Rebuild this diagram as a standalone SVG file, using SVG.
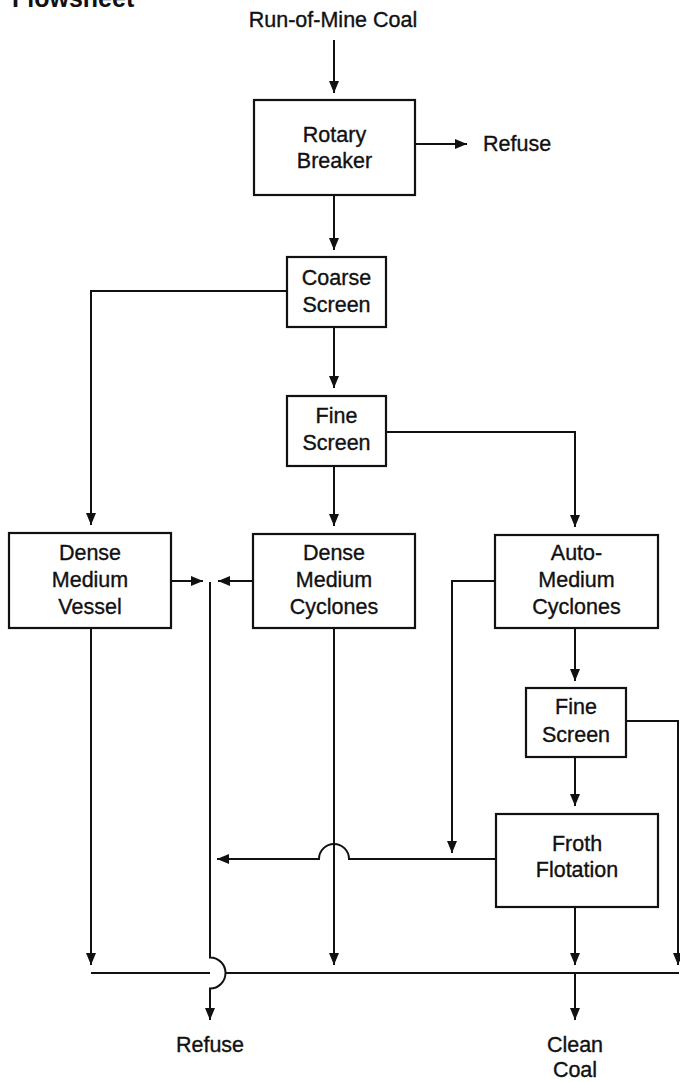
<svg xmlns="http://www.w3.org/2000/svg" width="680" height="1082" viewBox="0 0 680 1082">
<defs>
<style>
.box{fill:#fff;stroke:#111;stroke-width:2.2}
.ln{fill:none;stroke:#111;stroke-width:2}
.t{font-family:"Liberation Sans",Arial,sans-serif;font-size:21.5px;fill:#111;stroke:#111;stroke-width:0.35;text-anchor:middle}
.title{font-family:"Liberation Sans",Arial,sans-serif;font-size:25px;font-weight:bold;fill:#111}
</style>
<marker id="ah" markerUnits="userSpaceOnUse" markerWidth="13" markerHeight="12" refX="12" refY="6" orient="auto">
<path d="M0,1 L12,6 L0,11 z" fill="#111"/>
</marker>
</defs>
<rect width="680" height="1082" fill="#fff"/>
<text class="title" x="12" y="7">Flowsheet</text>

<g id="connectors">
<path class="ln" d="M334,40 V93" marker-end="url(#ah)"/>
<path class="ln" d="M415,144 H467" marker-end="url(#ah)"/>
<path class="ln" d="M334,195 V250" marker-end="url(#ah)"/>
<path class="ln" d="M287,291 H91 V525" marker-end="url(#ah)"/>
<path class="ln" d="M334,327 V388" marker-end="url(#ah)"/>
<path class="ln" d="M334,466 V526" marker-end="url(#ah)"/>
<path class="ln" d="M386,432 H575 V527" marker-end="url(#ah)"/>
<path class="ln" d="M171,581 H203" marker-end="url(#ah)"/>
<path class="ln" d="M253,581 H218" marker-end="url(#ah)"/>
<path class="ln" d="M210,582 V957.5 A15.5,15.5 0 0 1 210,988.5 V1020" marker-end="url(#ah)"/>
<path class="ln" d="M91,628 V965" marker-end="url(#ah)"/>
<path class="ln" d="M334,628 V965" marker-end="url(#ah)"/>
<path class="ln" d="M495,581 H452 V853" marker-end="url(#ah)"/>
<path class="ln" d="M575,628 V681" marker-end="url(#ah)"/>
<path class="ln" d="M626,721 H678 V965" marker-end="url(#ah)"/>
<path class="ln" d="M575,757 V806" marker-end="url(#ah)"/>
<path class="ln" d="M496,859 H349 A15,15 0 0 0 319,859 H217" marker-end="url(#ah)"/>
<path class="ln" d="M575,907 V965" marker-end="url(#ah)"/>
<path class="ln" d="M91,973 H210 M226,973 H679"/>
<path class="ln" d="M575,973 V1020" marker-end="url(#ah)"/>
</g>

<g id="label-rom"><text class="t" x="333" y="27">Run-of-Mine Coal</text></g>
<g id="label-refuse-top"><text class="t" x="483" y="151" style="text-anchor:start">Refuse</text></g>

<g id="rotary-breaker">
<rect class="box" x="254" y="100" width="161" height="95"/>
<text class="t" x="334.5" y="142">Rotary</text>
<text class="t" x="334.5" y="168">Breaker</text>
</g>

<g id="coarse-screen">
<rect class="box" x="287" y="257" width="99" height="70"/>
<text class="t" x="336.5" y="285">Coarse</text>
<text class="t" x="336.5" y="312">Screen</text>
</g>

<g id="fine-screen-1">
<rect class="box" x="287" y="396" width="99" height="70"/>
<text class="t" x="336.5" y="423">Fine</text>
<text class="t" x="336.5" y="450">Screen</text>
</g>

<g id="dense-medium-vessel">
<rect class="box" x="9" y="533" width="162" height="95"/>
<text class="t" x="90" y="560">Dense</text>
<text class="t" x="90" y="587">Medium</text>
<text class="t" x="90" y="614">Vessel</text>
</g>

<g id="dense-medium-cyclones">
<rect class="box" x="253" y="534" width="162" height="94"/>
<text class="t" x="334" y="560">Dense</text>
<text class="t" x="334" y="587">Medium</text>
<text class="t" x="334" y="614">Cyclones</text>
</g>

<g id="auto-medium-cyclones">
<rect class="box" x="495" y="535" width="163" height="93"/>
<text class="t" x="576.5" y="560">Auto-</text>
<text class="t" x="576.5" y="587">Medium</text>
<text class="t" x="576.5" y="614">Cyclones</text>
</g>

<g id="fine-screen-2">
<rect class="box" x="526" y="688" width="100" height="69"/>
<text class="t" x="576" y="714">Fine</text>
<text class="t" x="576" y="742">Screen</text>
</g>

<g id="froth-flotation">
<rect class="box" x="496" y="814" width="162" height="93"/>
<text class="t" x="577" y="851">Froth</text>
<text class="t" x="577" y="877">Flotation</text>
</g>

<g id="label-refuse-bottom"><text class="t" x="210" y="1052">Refuse</text></g>
<g id="label-clean-coal">
<text class="t" x="575" y="1052">Clean</text>
<text class="t" x="575" y="1077">Coal</text>
</g>
</svg>
